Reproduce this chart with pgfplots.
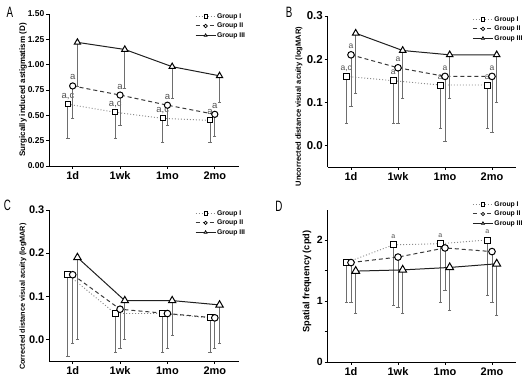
\documentclass[border=0pt]{standalone}
\usepackage{fontspec}
\setmainfont{Liberation Sans}
\usepackage{graphicx}
\usepackage{pgfplots}
\pgfplotsset{compat=1.18}

\definecolor{ebar}{HTML}{6E6E6E}
\definecolor{annc}{HTML}{505050}
\definecolor{gone}{HTML}{8A8A8A}
\definecolor{gtwo}{HTML}{3A3A3A}
\definecolor{gthree}{HTML}{202020}

\pgfplotsset{
  panel/.style={
    scale only axis,
    axis lines=left,
    axis line style={-, line width=0.9bp, black},
    tick align=outside,
    major tick length=3bp,
    minor tick length=3bp,
    tick style={line width=0.8bp, black},
    xmin=-0.5, xmax=3.5,
    xtick={0,1,2,3},
    xticklabels={1d,1wk,1mo,2mo},
    x tick label style={font=\fontsize{11bp}{12bp}\selectfont\bfseries, inner sep=2.5bp},
    y tick label style={inner sep=1.5bp},
    /pgf/number format/assume math mode=true,
    clip=false,
    legend cell align=left,
    legend style={draw=none, fill=none, anchor=north west,
      font=\fontsize{6.8bp}{8bp}\selectfont\bfseries,
      row sep=1bp, inner sep=0pt,
      nodes={inner sep=1bp, text height=5bp, text depth=1.5bp}},
    legend image code/.code={\draw[mark repeat=2,mark phase=2,##1,mark size=1.7bp,
        mark options={solid, draw=black, fill=white, line width=0.7bp}]
        plot coordinates {(0bp,0bp)(10bp,0bp)(20bp,0bp)};},
  },
  ebars/.style={error bars/.cd, y dir=minus, y explicit,
      error bar style={ebar, line width=1bp, solid},
      error mark options={ebar, rotate=90, mark size=1.6bp, line width=0.8bp, solid}},
  g1/.style={draw=gone, line width=0.9bp, dash pattern=on 1bp off 2bp, mark=square*, mark size=#1,
      mark options={solid, draw=black, fill=white, line width=1bp}, ebars},
  g2/.style={draw=gtwo, line width=1bp, dash pattern=on 4bp off 3bp, mark=*, mark size=#1,
      mark options={solid, draw=black, fill=white, line width=1bp}, ebars},
  g3/.style={draw=gthree, line width=1bp, solid, mark=triangle*, mark size=#1,
      mark options={solid, draw=black, fill=white, line width=1bp}, ebars},
}

\begin{document}
\begin{tikzpicture}
\useasboundingbox (0,0) rectangle (529bp,384bp);

% ---------------- Panel A
\begin{axis}[panel, at={(49bp,218bp)}, anchor=south west,
  width=189.5bp, height=152bp,
  ymin=0, ymax=1.5, ytick={0,0.25,0.5,0.75,1,1.25,1.5},
  y tick label style={font=\fontsize{8.5bp}{10bp}\selectfont\bfseries,
    /pgf/number format/.cd, fixed, fixed zerofill, precision=2},
  ylabel={Surgically induced astigmatism (D)},
  ylabel style={at={(axis description cs:-0.137,0.5)}, anchor=center,
    font=\fontsize{8bp}{9bp}\selectfont\bfseries},
  legend style={at={(0.77,1.013)}},
]
\tikzset{ann/.style={font=\fontsize{9.5bp}{10bp}\selectfont, text=annc, anchor=base, inner sep=0pt, yshift=6bp}}
\node[ann] at (axis cs:-0.1,0.61) {a,c};
\node[ann] at (axis cs:0,0.79) {a};
\node[ann] at (axis cs:0.9,0.53) {a,c};
\node[ann] at (axis cs:1,0.70) {a};
\node[ann] at (axis cs:1.9,0.47) {a,c};
\node[ann] at (axis cs:2,0.60) {a};
\node[ann] at (axis cs:2.9,0.45) {a};
\node[ann] at (axis cs:3,0.51) {a};
\addplot[g1=2.5bp] coordinates {(-0.1,0.61) -= (0,0.34) (0.9,0.53) -= (0,0.26) (1.9,0.47) -= (0,0.24) (2.9,0.45) -= (0,0.22)};
\addplot[g2=3.1bp] coordinates {(0,0.79) -= (0,0.32) (1,0.70) -= (0,0.30) (2,0.60) -= (0,0.20) (3,0.51) -= (0,0.22)};
\addplot[g3=3.6bp] coordinates {(0.1,1.22) -= (0,0.43) (1.1,1.15) -= (0,0.38) (2.1,0.98) -= (0,0.31) (3.1,0.89) -= (0,0.265)};
\legend{Group I, Group II, Group III}
\end{axis}

% ---------------- Panel B
\begin{axis}[panel, at={(327.5bp,217bp)}, anchor=south west,
  width=188bp, height=151bp,
  ymin=-0.05, ymax=0.3, ytick={0,0.1,0.2,0.3},
  y tick label style={font=\fontsize{11.5bp}{12bp}\selectfont\bfseries,
    /pgf/number format/.cd, fixed, fixed zerofill, precision=1},
  ylabel={Uncorrected distance visual acuity (logMAR)},
  ylabel style={at={(axis description cs:-0.152,0.40)}, anchor=center,
    font=\fontsize{7.5bp}{8bp}\selectfont\bfseries},
  legend style={at={(0.77,1.007)}},
]
\tikzset{ann/.style={font=\fontsize{8.5bp}{9bp}\selectfont, text=annc, anchor=base, inner sep=0pt, yshift=6bp}}
\node[ann] at (axis cs:-0.1,0.16) {a,c};
\node[ann] at (axis cs:0,0.21) {a};
\node[ann] at (axis cs:0.9,0.15) {a};
\node[ann] at (axis cs:1,0.18) {a};
\node[ann] at (axis cs:1.9,0.14) {a};
\node[ann] at (axis cs:2,0.16) {a};
\node[ann] at (axis cs:2.9,0.14) {a};
\node[ann] at (axis cs:3,0.16) {a};
\addplot[g1=3bp] coordinates {(-0.1,0.16) -= (0,0.11) (0.9,0.15) -= (0,0.10) (1.9,0.14) -= (0,0.10) (2.9,0.14) -= (0,0.10)};
\addplot[g2=3.3bp] coordinates {(0,0.21) -= (0,0.12) (1,0.18) -= (0,0.13) (2,0.16) -= (0,0.15) (3,0.16) -= (0,0.13)};
\addplot[g3=3.8bp] coordinates {(0.1,0.26) -= (0,0.14) (1.1,0.22) -= (0,0.11) (2.1,0.21) -= (0,0.10) (3.1,0.21) -= (0,0.11)};
\legend{Group I, Group II, Group III}
\end{axis}

% ---------------- Panel C
\begin{axis}[panel, at={(49bp,23bp)}, anchor=south west,
  width=189.5bp, height=151bp,
  ymin=-0.05, ymax=0.3, ytick={0,0.1,0.2,0.3},
  y tick label style={font=\fontsize{11bp}{12bp}\selectfont\bfseries,
    /pgf/number format/.cd, fixed, fixed zerofill, precision=1},
  ylabel={Corrected distance visual acuity (logMAR)},
  ylabel style={at={(axis description cs:-0.137,0.427)}, anchor=center,
    font=\fontsize{7.3bp}{8bp}\selectfont\bfseries},
  legend style={at={(0.77,1.007)}},
]
\addplot[g1=3bp] coordinates {(-0.1,0.15) -= (0,0.19) (0.9,0.06) -= (0,0.09) (1.9,0.06) -= (0,0.09) (2.9,0.05) -= (0,0.08)};
\addplot[g2=3.3bp] coordinates {(0,0.15) -= (0,0.16) (1,0.07) -= (0,0.09) (2,0.06) -= (0,0.08) (3,0.05) -= (0,0.07)};
\addplot[g3=4.2bp] coordinates {(0.1,0.19) -= (0,0.19) (1.1,0.09) -= (0,0.09) (2.1,0.09) -= (0,0.08) (3.1,0.08) -= (0,0.09)};
\legend{Group I, Group II, Group III}
\end{axis}

% ---------------- Panel D
\begin{axis}[panel, at={(327.5bp,22bp)}, anchor=south west,
  width=188bp, height=152.5bp,
  ymin=0, ymax=2.5, ytick={0,1,2}, minor ytick={0.5,1.5},
  y tick label style={font=\fontsize{10.5bp}{12bp}\selectfont\bfseries},
  ylabel={Spatial frequency (cpd)},
  ylabel style={at={(axis description cs:-0.109,0.528)}, anchor=center,
    font=\fontsize{9.2bp}{10bp}\selectfont\bfseries},
  legend style={at={(0.77,1.062)}},
]
\tikzset{ann/.style={font=\fontsize{7bp}{8bp}\selectfont, text=annc, anchor=base, inner sep=0pt, yshift=6bp}}
\node[ann] at (axis cs:0.9,1.92) {a};
\node[ann] at (axis cs:1.9,1.94) {a};
\node[ann] at (axis cs:2.9,2.00) {a};
\addplot[g1=3bp] coordinates {(-0.1,1.63) -= (0,0.65) (0.9,1.92) -= (0,1.00) (1.9,1.94) -= (0,0.96) (2.9,2.00) -= (0,0.90)};
\addplot[g2=3.3bp] coordinates {(0,1.63) -= (0,0.65) (1,1.72) -= (0,0.83) (2,1.87) -= (0,0.69) (3,1.81) -= (0,0.83)};
\addplot[g3=4.5bp] coordinates {(0.1,1.49) -= (0,0.69) (1.1,1.51) -= (0,0.71) (2.1,1.55) -= (0,0.70) (3.1,1.61) -= (0,0.84)};
\legend{Group I, Group II, Group III}
\end{axis}

% panel letters
\node at (10bp,371.5bp) {\fontsize{15bp}{15bp}\selectfont\scalebox{0.65}[1]{A}};
\node at (289bp,371.5bp) {\fontsize{15bp}{15bp}\selectfont\scalebox{0.65}[1]{B}};
\node at (7.5bp,179bp) {\fontsize{15bp}{15bp}\selectfont\scalebox{0.65}[1]{C}};
\node at (279bp,178bp) {\fontsize{15bp}{15bp}\selectfont\scalebox{0.65}[1]{D}};
\end{tikzpicture}
\end{document}
